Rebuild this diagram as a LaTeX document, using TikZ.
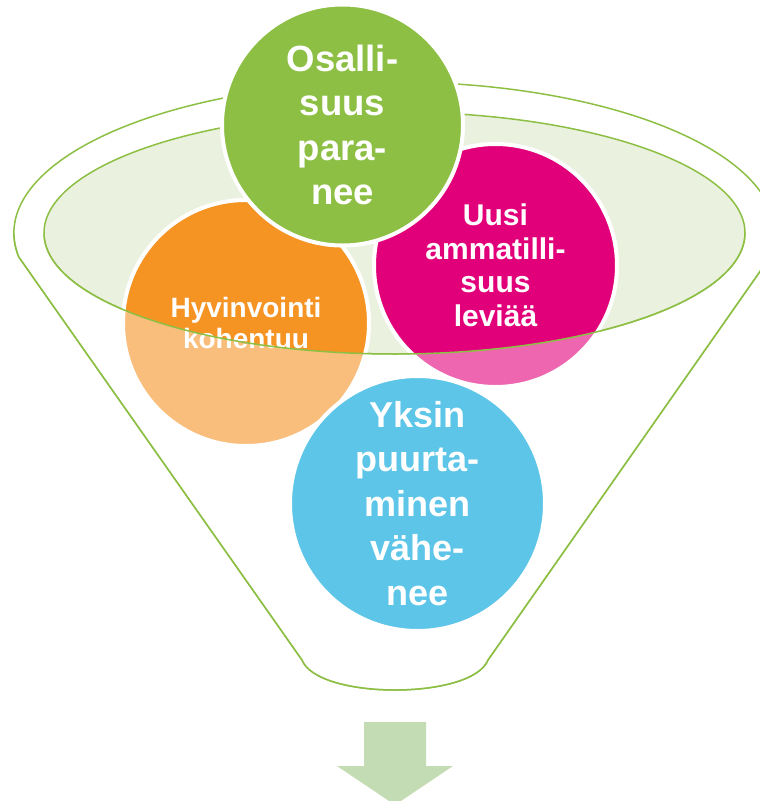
\documentclass[tikz,border=0pt]{standalone}
\usepackage{fontspec}
\setmainfont{Liberation Sans}
\definecolor{fgreen}{HTML}{8DBF44}
\definecolor{innerfill}{HTML}{EBF1DF}
\definecolor{corange}{HTML}{F59323}
\definecolor{cpink}{HTML}{E2007A}
\definecolor{cblue}{HTML}{5CC5E8}
\definecolor{carrow}{HTML}{C4DCB3}
\tikzset{
  bubble/.style={circle, draw=white, line width=4pt, inner sep=0pt, align=center, text=white, font=\bfseries},
  funnelline/.style={draw=fgreen, line width=1.5pt},
}
\def\funnelpath{(18.8,257) arc[start angle=170.85, end angle=369.15, x radius=380.5, y radius=151] -- (488,660) .. controls (472,700) and (318,700) .. (302,660) -- cycle}
\begin{document}
\begin{tikzpicture}[x=1pt,y=-1pt]
\useasboundingbox (0,0) rectangle (760,801);
% funnel outline
\draw[funnelline] \funnelpath;
% inner ellipse
\draw[funnelline, fill=innerfill] (394.5,233) ellipse[x radius=350.5, y radius=121];
% circles
\node[bubble, fill=corange, minimum size=246pt, font=\bfseries\fontsize{28}{31}\selectfont] (hyv) at (246,323) {Hyvinvointi\\kohentuu};
\node[bubble, fill=cpink, minimum size=243pt, font=\bfseries\fontsize{30}{33.5}\selectfont] (uusi) at (495.5,265.5) {Uusi\\ammatilli-\\suus\\leviää};
\node[bubble, fill=fgreen, minimum size=241pt, font=\bfseries\fontsize{36.5}{44.5}\selectfont] (osa) at (342.5,125) {Osalli-\\suus\\para-\\nee};
% semi-transparent funnel body
\begin{scope}
  \clip (0,233) rectangle (760,801);
  \fill[white, opacity=0.4, even odd rule] \funnelpath (394.5,233) ellipse[x radius=350.5, y radius=121];
  \draw[funnelline] (44,233) arc[start angle=180, end angle=0, x radius=350.5, y radius=121];
  \draw[funnelline] \funnelpath;
\end{scope}
\node[bubble, fill=cblue, minimum size=255pt, font=\bfseries\fontsize{36}{44.5}\selectfont] (yks) at (417.5,503.5) {Yksin\\puurta-\\minen\\vähe-\\nee};
% arrow
\fill[carrow] (364,722) -- (426,722) -- (426,766) -- (453,766) -- (395,805) -- (337,766) -- (364,766) -- cycle;
\end{tikzpicture}
\end{document}
